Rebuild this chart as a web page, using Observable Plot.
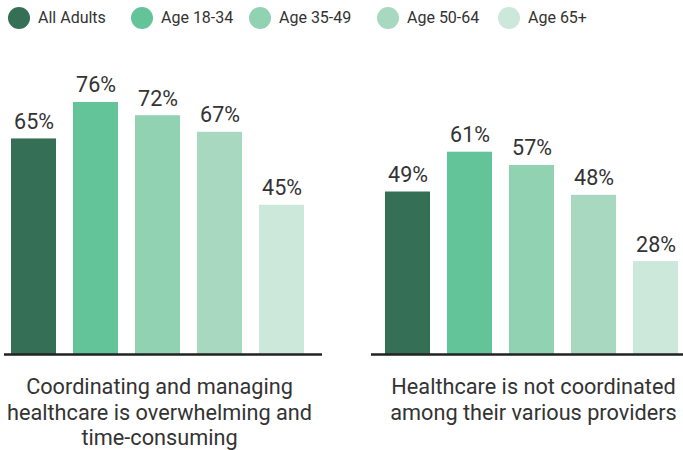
<!DOCTYPE html>
<html>
<head>
<meta charset="utf-8">
<script src="https://cdn.jsdelivr.net/npm/d3@7"></script>
<script src="https://cdn.jsdelivr.net/npm/@observablehq/plot@0.6"></script>
<style>
  html, body { margin: 0; padding: 0; background: #fff; }
  body { width: 683px; height: 450px; overflow: hidden; font-family: Roboto, "Liberation Sans", sans-serif; color: #333; }
  #legend { position: relative; height: 36px; }
  .sw { position: absolute; width: 22px; height: 22px; border-radius: 50%; top: 7px; }
  .lt { position: absolute; top: 8px; font-size: 16px; line-height: 20px; color: #333; white-space: nowrap; }
  #chart svg { display: block; }
</style>
</head>
<body>
<div id="legend"></div>
<div id="chart"></div>
<script>
const categories = ["overwhelming", "notCoordinated"];
const categoryLabels = [
  "Coordinating and managing\nhealthcare is overwhelming and\ntime-consuming",
  "Healthcare is not coordinated\namong their various providers"
];
const groups = ["All Adults", "Age 18-34", "Age 35-49", "Age 50-64", "Age 65+"];
const overwhelmingValues = [65, 76, 72, 67, 45];
const notCoordinatedValues = [49, 61, 57, 48, 28];
const colors = ["#356f55", "#63c49a", "#91d2b3", "#a8d8c0", "#cbe8da"];

const seriesByCategory = [overwhelmingValues, notCoordinatedValues];
const data = categories.flatMap((c, i) => groups.map((g, j) => ({category: c, group: g, value: seriesByCategory[i][j]})));

// legend (HTML)
const legendX = [8, 131, 249, 377, 498];
const legend = document.getElementById("legend");
groups.forEach((g, i) => {
  const s = document.createElement("div");
  s.className = "sw"; s.style.left = legendX[i] + "px"; s.style.background = colors[i];
  legend.appendChild(s);
  const t = document.createElement("div");
  t.className = "lt"; t.style.left = (legendX[i] + 30) + "px"; t.textContent = g;
  legend.appendChild(t);
});

const labelOf = new Map(categories.map((c, i) => [c, categoryLabels[i]]));

const chart = Plot.plot({
  width: 683,
  height: 414,
  marginTop: 52.7,
  marginBottom: 96,
  marginLeft: 5,
  marginRight: 0,
  facet: {marginTop: 0, marginBottom: 0, marginLeft: 0, marginRight: 0},
  style: {fontFamily: "Roboto, 'Liberation Sans', sans-serif", color: "#333", background: "#fff"},
  fx: {domain: categories, padding: 0.1872, axis: null},
  x: {domain: groups, paddingInner: 0.277, paddingOuter: 0.08, axis: null},
  y: {domain: [0, 80], axis: null},
  color: {domain: groups, range: colors},
  marks: [
    Plot.barY(data, {fx: "category", x: "group", y: "value", fill: "group"}),
    Plot.text(data, {fx: "category", x: "group", y: "value", text: d => d.value + "%", dy: -10, lineAnchor: "bottom", fontSize: 21.5, fill: "#333"}),
    Plot.ruleY([{category: categories[0], v: 0}], {fx: "category", y: "v", insetLeft: -1, insetRight: -13, stroke: "#222", strokeWidth: 2.5}),
    Plot.ruleY([{category: categories[1], v: 0}], {fx: "category", y: "v", insetLeft: -8, insetRight: 0, stroke: "#222", strokeWidth: 2.5}),
    Plot.text(categories, {fx: d => d, text: d => labelOf.get(d), frameAnchor: "bottom", lineAnchor: "top", dy: 21.5, dx: 2, fontSize: 21.7, lineHeight: 1.175, fill: "#333"})
  ]
});
document.getElementById("chart").appendChild(chart);
</script>
</body>
</html>
